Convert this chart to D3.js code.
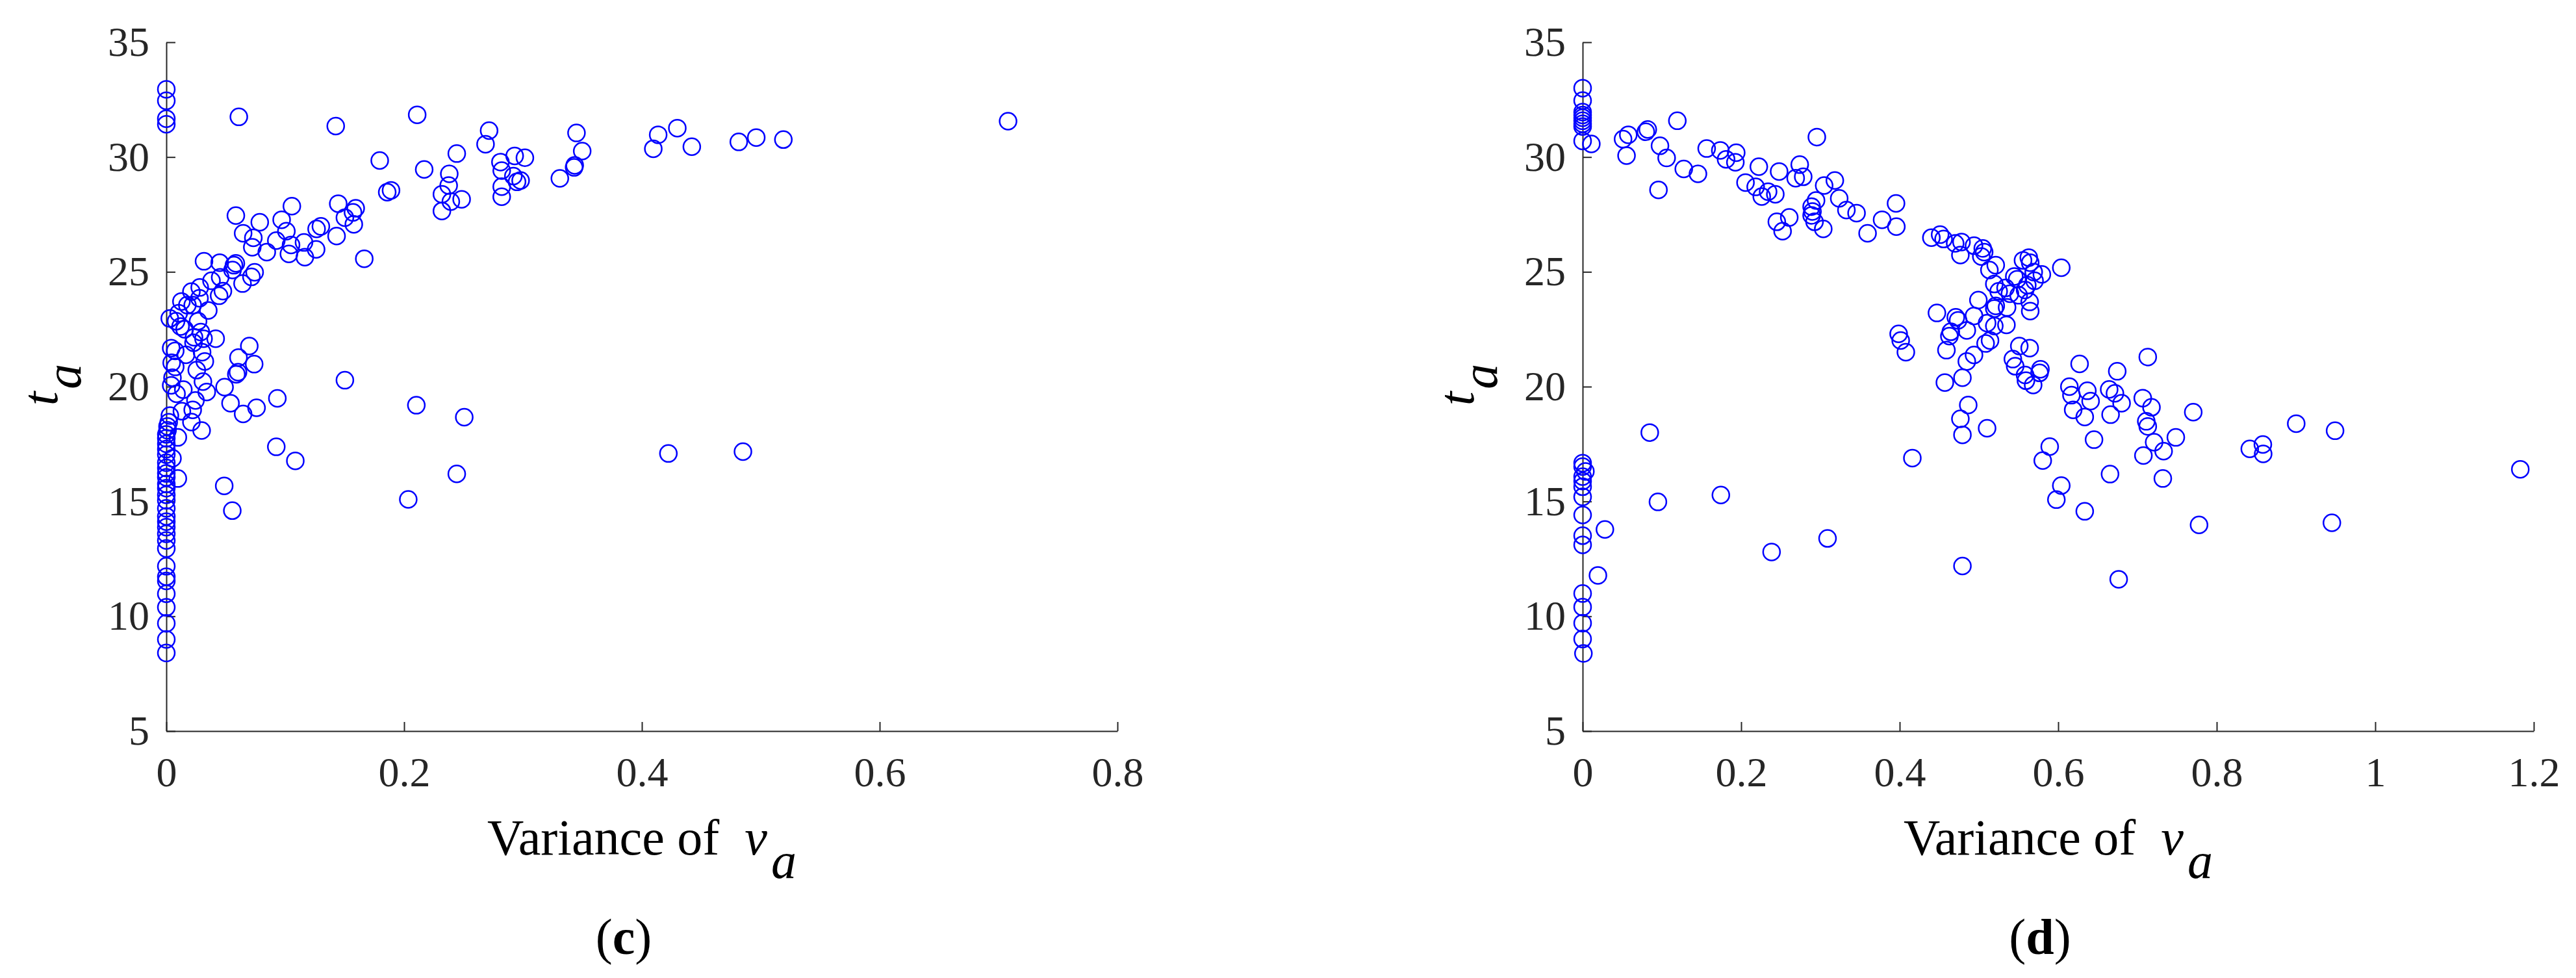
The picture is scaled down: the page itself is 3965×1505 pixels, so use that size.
<!doctype html>
<html>
<head>
<meta charset="utf-8">
<style>
  body { margin: 0; background: #fff; }
  svg { display: block; }
  .axis path, .axis line { stroke: #262626; stroke-width: 2; }
  .dot { fill: none; stroke: #0000ff; stroke-width: 2.5; }
</style>
<script src="https://d3js.org/d3.v7.min.js"></script>
</head>
<body>
<svg width="3965" height="1505"></svg>
<script>

// panel (c): variance of v_a vs t_a
var varC = [0, 0, 0, 0,
  0.061, 0.1425, 0.211, 0.2715, 0.2685, 0.345, 0.1795, 0.2443, 0.2169, 0.238, 0.2375, 0.2318, 0.2393, 0.2484, 0.2318,
  0.281, 0.2821, 0.293, 0.3016, 0.2919, 0.295, 0.298, 0.2821, 0.2821, 0.331, 0.3435, 0.343, 0.3498, 0.1858, 0.189,
  0.1056, 0.1446, 0.1593, 0.1502, 0.157, 0.1577, 0.1432, 0.13, 0.1264, 0.0585, 0.0786, 0.0646, 0.0732, 0.0723, 0.0845,
  0.097, 0.101, 0.0925, 0.1049, 0.1031, 0.1158, 0.1165, 0.126, 0.1665, 0.0317, 0.0449, 0.0569, 0.0585, 0.0557, 0.0453,
  0.0641, 0.0716, 0.0743, 0.038, 0.0476, 0.0444, 0.0281, 0.0211, 0.0279, 0.0127, 0.0353, 0.0222, 0.0177, 0.0104, 0.0029,
  0.0082, 0.012, 0.0154, 0.0267, 0.0233, 0.029, 0.0313, 0.0415, 0.0229, 0.0041, 0.0075, 0.0165, 0.0301, 0.0324, 0.0045,
  0.0075, 0.0052, 0.0041, 0.0256, 0.0308, 0.034, 0.0086, 0.0143, 0.0245, 0.049, 0.0607, 0.0698, 0.0739, 0.0589, 0.0603,
  0.054, 0.0646, 0.0759, 0.0934, 0.1502, 0.0222, 0.0131, 0.0211, 0.0297, 0.2103, 0.2506, 0.0925, 0.1085, 0.2443, 0.2035,
  0.0487, 0.0555, 0.0097, 0.0097, 0.0052, 0.4223, 0.485, 0.4137, 0.4298, 0.4096, 0.442, 0.4815, 0.4962, 0.519, 0.708,
  0.003, 0.002, 0.001, 0.001, 0, 0, 0, 0, 0, 0, 0, 0, 0, 0, 0, 0, 0, 0, 0, 0, 0, 0, 0, 0, 0, 0, 0, 0, 0, 0, 0, 0];
var taC = [32.95, 32.45, 31.67, 31.43,
  31.75, 31.35, 31.84, 31.15, 30.56, 31.05, 29.85, 30.15, 29.46, 29.27, 28.76, 28.38, 28.06, 28.16, 27.65,
  29.78, 29.41, 30.05, 29.97, 29.17, 28.92, 28.98, 28.71, 28.27, 29.07, 29.64, 29.55, 30.26, 28.47, 28.55,
  27.86, 27.97, 27.77, 27.36, 27.59, 27.07, 26.56, 26.98, 26.87, 27.45, 27.16, 26.68, 26.48, 26.07, 25.86,
  27.27, 26.77, 26.36, 26.17, 25.78, 26.28, 25.64, 25.98, 25.57, 25.46, 25.4, 25.29, 25.37, 25.08, 24.76,
  24.49, 24.78, 24.98, 24.61, 24.16, 23.96, 24.32, 24.14, 23.85, 23.71, 23.32, 23.55, 23.55, 23.2, 22.97,
  22.85, 22.62, 22.5, 22.85, 22.15, 22.38, 22.09, 22.09, 21.91, 21.68, 21.56, 21.39, 21.5, 21.1, 21.04,
  20.86, 20.39, 20.06, 20.72, 20.22, 19.77, 19.69, 19.87, 19.4, 19.98, 21.27, 21.77, 20.98, 20.54, 20.63,
  19.28, 18.81, 19.08, 19.49, 20.28, 18.99, 18.93, 18.46, 18.09, 19.19, 18.67, 17.38, 16.77, 16.2, 15.09,
  15.68, 14.6, 16.0, 17.79, 16.88, 17.09, 17.17, 30.97, 31.26, 30.36, 30.45, 30.66, 30.85, 30.76, 31.56,
  18.74, 18.45, 18.27, 18.1, 17.92, 17.75, 17.51, 17.28, 17.04, 16.69, 16.46, 16.22, 16.05, 15.76, 15.58, 15.29,
  15.05, 14.7, 14.35, 14.12, 13.88, 13.59, 13.3, 12.95, 12.18, 11.72, 11.54, 10.98, 10.39, 9.69, 8.99, 8.4];

// panel (d)
var varD = [0, 0, 0, 0, 0, 0, 0, 0, 0, 0.011,
  0, 0, 0, 0, 0, 0, 0, 0, 0, 0, 0, 0, 0, 0.001, 0.0035,
  0.051, 0.0576, 0.0554, 0.0797, 0.0822, 0.1195, 0.0976, 0.106, 0.1276, 0.1455, 0.0957, 0.1565, 0.1737, 0.181, 0.1938,
  0.1927, 0.2223, 0.2055, 0.2183, 0.226, 0.234, 0.2431, 0.2479, 0.2739, 0.2688, 0.2783, 0.2955, 0.3047, 0.3182, 0.3237,
  0.3328, 0.3456, 0.2945, 0.2889, 0.29, 0.2926, 0.3036, 0.2889, 0.245, 0.2607, 0.2523, 0.3595, 0.3778, 0.3954, 0.3958,
  0.44, 0.451, 0.4554, 0.47, 0.478, 0.4766, 0.4938, 0.5048, 0.5066, 0.503, 0.5212, 0.5132, 0.5194, 0.4993, 0.5212,
  0.5249, 0.5194, 0.447, 0.4708, 0.4737, 0.4938, 0.4847, 0.4645, 0.4627, 0.5103, 0.5194, 0.514, 0.5084, 0.459, 0.4938,
  0.4847, 0.4792, 0.457, 0.4865, 0.4766, 0.4792, 0.5103, 0.3987, 0.4013, 0.4078, 0.416, 0.0847,
  0.0281, 0.0193, 0.095, 0.1744, 0.2384, 0.309, 0.4792,
  0.5556, 0.5629, 0.5647, 0.5691, 0.5794, 0.6039, 0.5446, 0.5483, 0.5336, 0.5391, 0.5501, 0.561, 0.5702, 0.5582, 0.564,
  0.5647, 0.5355, 0.5347, 0.5509, 0.564, 0.5428, 0.5457, 0.5582, 0.5593, 0.5684, 0.5776, 0.5765, 0.627, 0.6745, 0.713,
  0.6141, 0.6167, 0.6189, 0.6368, 0.6409, 0.6335, 0.6643, 0.6716, 0.68, 0.6661, 0.7067, 0.7177, 0.7111, 0.713, 0.7704,
  0.6452, 0.721, 0.733, 0.7484, 0.7075, 0.732, 0.6654, 0.5893, 0.5805, 0.6039, 0.5977, 0.6335, 0.7777, 0.6763, 0.8417,
  0.8582, 0.8586, 0.9003, 0.9493, 0.9453, 1.183];
var taD = [33.0, 32.46, 31.96, 31.83, 31.71, 31.58, 31.45, 31.33, 30.7, 30.57,
  16.67, 16.52, 16.08, 15.89, 15.64, 15.2, 14.41, 13.51, 13.11, 10.99, 10.4, 9.7, 9.01, 8.38, 16.31,
  30.78, 30.97, 30.06, 31.1, 31.2, 31.58, 30.49, 29.96, 29.48, 29.27, 28.57, 30.37, 30.29, 29.9, 30.19,
  29.77, 29.58, 28.89, 28.7, 28.28, 28.49, 28.38, 29.37, 29.67, 29.08, 29.14, 30.87, 28.76, 28.98, 28.2,
  27.69, 27.56, 28.11, 27.84, 27.63, 27.18, 26.87, 27.46, 27.18, 27.37, 26.77, 26.68, 27.27, 27.98, 26.97,
  26.49, 26.62, 26.43, 26.24, 26.3, 25.73, 26.14, 26.02, 25.86, 25.67, 25.29, 25.08, 24.47, 23.77, 23.52,
  24.15, 23.4, 23.21, 23.02, 22.89, 23.08, 22.45, 22.39, 22.2, 22.77, 22.64, 22.01, 21.88, 21.59, 21.38,
  21.1, 20.39, 20.18, 19.2, 18.6, 17.9, 18.19, 22.3, 22.01, 21.5, 16.89, 18.0,
  13.78, 11.78, 14.98, 15.28, 12.8, 13.39, 12.19,
  25.5, 25.62, 25.4, 24.99, 24.89, 25.18, 24.8, 24.68, 24.3, 24.05, 23.98, 24.42, 24.61, 24.21, 23.69,
  23.29, 23.45, 22.69, 21.77, 21.68, 21.2, 20.89, 20.51, 20.26, 20.07, 20.76, 20.6, 20.99, 20.67, 21.29,
  20.0, 19.63, 18.99, 19.82, 19.37, 18.68, 19.88, 19.71, 19.28, 18.78, 19.5, 19.1, 18.49, 18.27, 18.89,
  17.69, 17.58, 17.19, 17.79, 17.0, 16.0, 16.19, 17.39, 16.78, 15.69, 15.08, 14.57, 13.98, 11.61, 17.29,
  17.48, 17.07, 18.39, 18.08, 14.07, 16.4];

var yTicks = [5, 10, 15, 20, 25, 30, 35];
var xTicksC = [0, 0.2, 0.4, 0.6, 0.8];
var xTicksD = [0, 0.2, 0.4, 0.6, 0.8, 1, 1.2];

var serif = "Liberation Serif";

var svg = d3.select("svg");
svg.append("rect").attr("width", 3965).attr("height", 1505).attr("fill", "#fff");

var top_ = 65, bottom = 1125, plotW = 1464;

function panel(left, xs, ys, xMax, xTicks, letter) {
    var x = d3.scaleLinear().domain([0, xMax]).range([left, left + plotW]);
    var y = d3.scaleLinear().domain([5, 35]).range([bottom, top_]);
    var g = svg.append("g");

    g.append("g")
     .attr("class", "axis")
     .attr("transform", "translate(0," + bottom + ")")
     .call(d3.axisBottom(x).tickValues(xTicks).tickFormat(function(d) { return String(d); })
           .tickSizeInner(-14).tickSizeOuter(0).tickPadding(40));

    g.append("g")
     .attr("class", "axis")
     .attr("transform", "translate(" + left + ",0)")
     .call(d3.axisLeft(y).tickValues(yTicks).tickSizeInner(-14).tickSizeOuter(0).tickPadding(26));

    g.selectAll(".axis").attr("font-family", serif).attr("font-size", 64);
    g.selectAll(".axis text")
     .style("font-family", serif)
     .style("font-size", "64px")
     .attr("fill", "#262626");

    g.selectAll(".dot")
     .data(xs)
     .enter().append("circle")
     .attr("class", "dot")
     .attr("cx", function(d) { return x(d); })
     .attr("cy", function(d, i) { return y(ys[i]); })
     .attr("r", 13);

    var cx = left + plotW / 2;

    // x label
    var xl = g.append("text")
     .attr("x", cx).attr("y", 1315)
     .attr("text-anchor", "middle")
     .style("font-family", serif)
     .style("font-size", "78px")
     .attr("fill", "#000");
    xl.append("tspan").text("Variance of\u00a0\u00a0");
    xl.append("tspan").attr("font-style", "italic").text("v");
    xl.append("tspan").attr("font-style", "italic").attr("dy", 36).attr("dx", 6).text("a");

    // y label
    var yl = g.append("text")
     .attr("transform", "translate(" + (left - 168) + ",592) rotate(-90)")
     .attr("text-anchor", "middle")
     .style("font-family", serif)
     .style("font-size", "78px")
     .attr("fill", "#000");
    yl.append("tspan").attr("font-style", "italic").text("t");
    yl.append("tspan").attr("font-style", "italic").attr("dy", 36).attr("dx", 4).text("a");

    // panel letter
    var pl = g.append("text")
     .attr("x", cx - 28).attr("y", 1468)
     .attr("text-anchor", "middle")
     .style("font-family", serif)
     .style("font-size", "78px")
     .attr("fill", "#000");
    pl.append("tspan").text("(");
    pl.append("tspan").attr("font-weight", "bold").text(letter);
    pl.append("tspan").text(")");
}

panel(256, varC, taC, 0.8, xTicksC, "c");
panel(2436, varD, taD, 1.2, xTicksD, "d");

</script>
</body>
</html>
